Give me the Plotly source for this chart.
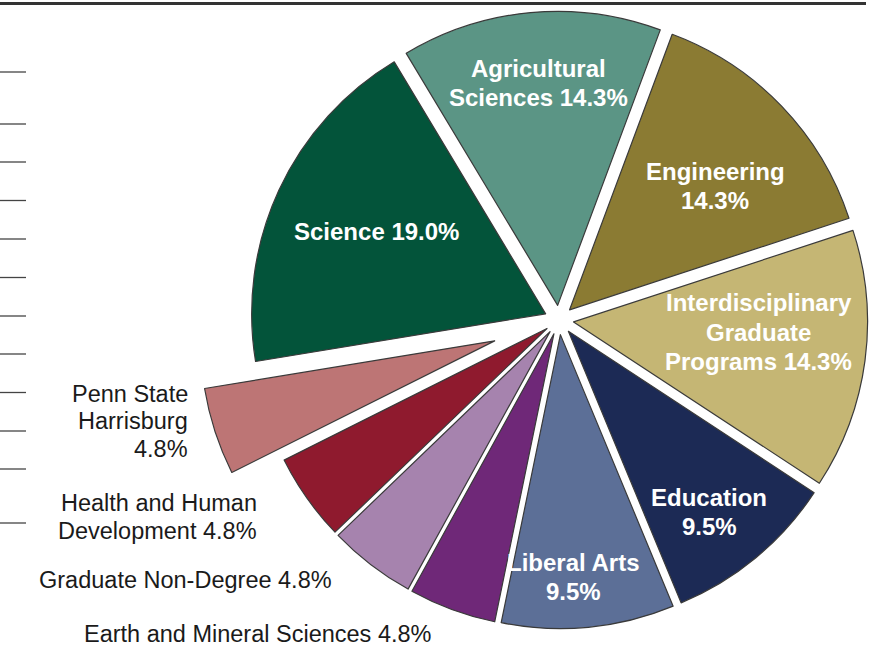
import math
import plotly.graph_objects as go

# ---------------- data ----------------
colleges = [
    "Agricultural Sciences", "Engineering", "Interdisciplinary Graduate Programs",
    "Education", "Liberal Arts", "Earth and Mineral Sciences", "Graduate Non-Degree",
    "Health and Human Development", "Penn State Harrisburg", "Science",
]
shares = [14.3, 14.3, 14.3, 9.5, 9.5, 4.8, 4.8, 4.8, 4.8, 19.0]
# how each label is broken into lines on the chart
display_names = [
    "Agricultural<br>Sciences", "Engineering", "Interdisciplinary<br>Graduate<br>Programs",
    "Education", "Liberal Arts", "Earth and Mineral Sciences", "Graduate Non-Degree",
    "Health and Human<br>Development", "Penn State<br>Harrisburg", "Science",
]
name_pct_sep = [" ", "<br>", " ", "<br>", "<br>", " ", " ", " ", "<br>", " "]

# ---------------- style ----------------
colors = ["#5b9585", "#8b7b33", "#c5b674", "#1c2a55", "#5c6f97",
          "#6f2878", "#a683ae", "#8f1a2e", "#bd7575", "#03543a"]
inside = [True, True, True, True, True, False, False, False, False, True]
exploded = "Penn State Harrisburg"
W, H = 882, 646
CX, CY, R = 559, 320, 294          # pie centre / radius in px
PULL, PULL_X = 0.05, 0.23          # common pull, pull of exploded slice
ROT = -31
# label placement: radius factor and small angle tweak (deg) relative to slice middle
lab_rf = [0.81, 0.70, 0.68, 0.83, 0.875, 1.15, 1.17, 1.22, 1.30, 0.69]
lab_da = [0.3, 3.2, -4.0, 1.6, 2.3, 1.5, 3.3, 1.9, 2.6, 1.0]
IN_SIZE, IN_LH = 24, 29.5
OUT_SIZE, OUT_LH = 23.5, 27.5

FONT = "Arial, Liberation Sans, sans-serif"

total = sum(shares)
mids = []
acc = ROT
for v in shares:
    span = v / total * 360
    mids.append(acc + span / 2)
    acc += span

def dom(cx, cy):
    h = R * (1 + PULL)
    return dict(x=[(cx - h) / W, (cx + h) / W], y=[max(0, 1 - (cy + h) / H), min(1, 1 - (cy - h) / H)])

tr = "rgba(0,0,0,0)"
ix = colleges.index(exploded)
colA = [tr if c == exploded else col for c, col in zip(colleges, colors)]
lineA = [tr if c == exploded else "#3a3a3a" for c in colleges]
colB = [col if c == exploded else tr for c, col in zip(colleges, colors)]
lineB = ["#3a3a3a" if c == exploded else tr for c in colleges]

a = math.radians(mids[ix])
shift = (PULL_X - PULL) * R
cxB = CX + shift * math.sin(a)
cyB = CY - shift * math.cos(a)

common = dict(labels=colleges, values=shares, sort=False, direction="clockwise",
              rotation=ROT, textinfo="none", hoverinfo="label+percent",
              pull=[PULL] * len(shares), showlegend=False)

fig = go.Figure()
fig.add_trace(go.Pie(**common, domain=dom(CX, CY),
                     marker=dict(colors=colA, line=dict(color=lineA, width=1.2))))
fig.add_trace(go.Pie(**common, domain=dom(cxB, cyB),
                     marker=dict(colors=colB, line=dict(color=lineB, width=1.2))))

annotations = []
for i, (nm, sep, v) in enumerate(zip(display_names, name_pct_sep, shares)):
    ang = math.radians(mids[i] + lab_da[i])
    px = CX + lab_rf[i] * R * math.sin(ang)
    py = CY - lab_rf[i] * R * math.cos(ang)
    lines = f"{nm}{sep}{v:.1f}%".split("<br>")
    n = len(lines)
    lh = IN_LH if inside[i] else OUT_LH
    for k, ln in enumerate(lines):
        ly = py + (k - (n - 1) / 2) * lh
        if inside[i]:
            annotations.append(dict(x=px / W, y=1 - ly / H, xref="paper", yref="paper",
                                    text=ln, showarrow=False, xanchor="center", yanchor="middle",
                                    font=dict(family=FONT, size=IN_SIZE, color="white", weight="bold")))
        else:
            annotations.append(dict(x=px / W, y=1 - ly / H, xref="paper", yref="paper",
                                    text=ln, showarrow=False, xanchor="right", yanchor="middle",
                                    font=dict(family=FONT, size=OUT_SIZE, color="#1a1a1a")))

shapes = [dict(type="line", xref="paper", yref="paper", x0=0, x1=866 / W,
               y0=1 - 3.5 / H, y1=1 - 3.5 / H, line=dict(color="#333333", width=3))]
for ty in [72, 124, 162, 200.5, 239, 277.5, 316, 354, 392.5, 431, 469, 523]:
    shapes.append(dict(type="line", xref="paper", yref="paper", x0=0, x1=26 / W,
                       y0=1 - ty / H, y1=1 - ty / H, line=dict(color="#444444", width=1.3)))

fig.update_layout(width=W, height=H, margin=dict(l=0, r=0, t=0, b=0),
                  paper_bgcolor="white", plot_bgcolor="white",
                  annotations=annotations, shapes=shapes)

fig.write_html("out.html", config={"displayModeBar": False},
               post_script="document.body.style.margin='0px';document.body.style.overflow='hidden';")
